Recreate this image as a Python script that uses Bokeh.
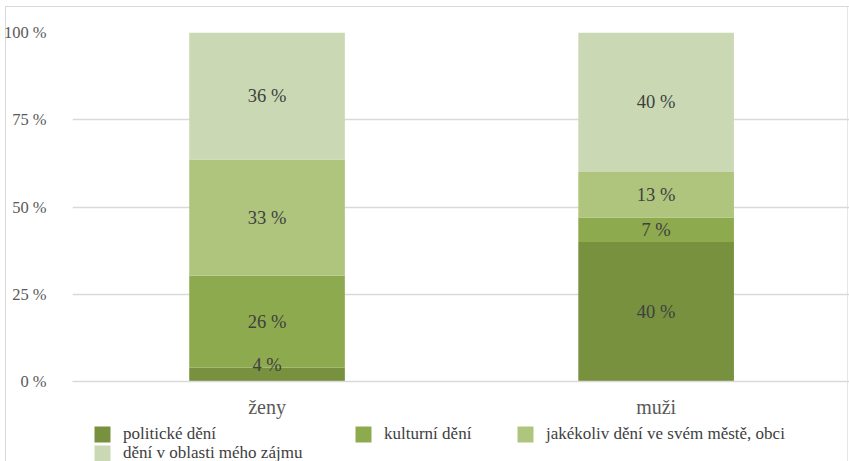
from bokeh.plotting import figure
from bokeh.layouts import column
from bokeh.models import (Range1d, FixedTicker, ColumnDataSource, Legend, LegendItem)
from bokeh.core.properties import value
from bokeh.embed import file_html
from bokeh.resources import INLINE

categories = ["ženy", "muži"]
series_names = ["politické dění", "kulturní dění",
                "jakékoliv dění ve svém městě, obci", "dění v oblasti mého zájmu"]
politicke = [4, 40]
kulturni = [26, 7]
jakekoliv = [33, 13]
oblasti = [36, 40]
y_ticks = [0, 25, 50, 75, 100]

colors = ["#77913F", "#8EAA4E", "#AFC47D", "#CAD9B3"]
FONT = "Liberation Serif"

series = [politicke, kulturni, jakekoliv, oblasti]
xs = [i + 0.5 for i in range(len(categories))]
totals = [sum(s[i] for s in series) for i in range(len(categories))]

p = figure(width=849, height=420, output_backend="svg", toolbar_location=None,
           x_range=Range1d(0, 1.997), y_range=Range1d(0, 100),
           min_border_left=72, min_border_right=0, min_border_top=32,
           min_border_bottom=39)
p.outline_line_color = None
p.background_fill_alpha = 0
p.border_fill_alpha = 0

bottoms = [0.0] * len(categories)
lab_x, lab_y, lab_t = [], [], []
for name, vals, col in zip(series_names, series, colors):
    shares = [v / t * 100 for v, t in zip(vals, totals)]
    tops = [b + s for b, s in zip(bottoms, shares)]
    src = ColumnDataSource(dict(x=xs, bottom=bottoms, top=tops))
    p.vbar(x="x", bottom="bottom", top="top", width=0.4, source=src,
           fill_color=col, line_color=None)
    for x, b, t, v in zip(xs, bottoms, tops, vals):
        lab_x.append(x)
        lab_y.append(max((b + t) / 2, 4.6))
        lab_t.append(f"{v} %")
    bottoms = tops

p.text(x=lab_x, y=lab_y, text=lab_t, text_font=value(FONT), text_font_size="18.5px",
       text_color="#404040", text_align="center", text_baseline="middle")

# axes
p.xaxis.ticker = FixedTicker(ticks=xs)
p.xaxis.major_label_overrides = {x: c for x, c in zip(xs, categories)}
p.xaxis.major_label_text_font = FONT
p.xaxis.major_label_text_font_size = "20px"
p.xaxis.major_label_text_color = "#595959"
p.xaxis.major_label_standoff = 8
p.xaxis.axis_line_color = "#D9D9D9"
p.xaxis.axis_line_width = 1.5
p.xaxis.major_tick_line_color = None
p.xaxis.minor_tick_line_color = None

p.yaxis.ticker = FixedTicker(ticks=y_ticks)
p.yaxis.major_label_overrides = {t: f"{t} %" for t in y_ticks}
p.yaxis.major_label_text_font = FONT
p.yaxis.major_label_text_font_size = "16.5px"
p.yaxis.major_label_text_color = "#595959"
p.yaxis.major_label_standoff = 20
p.yaxis.axis_line_color = None
p.yaxis.major_tick_line_color = None
p.yaxis.minor_tick_line_color = None

p.xgrid.grid_line_color = None
p.ygrid.grid_line_color = "#D9D9D9"
p.ygrid.grid_line_width = 1.5

# legend strip below the chart (frame aligned with the chart frame)
lf = figure(width=849, height=41, output_backend="svg", toolbar_location=None,
            x_axis_type=None, y_axis_type=None,
            min_border_left=72, min_border_right=0, min_border_top=0, min_border_bottom=0,
            x_range=Range1d(0, 1), y_range=Range1d(0, 1))
lf.outline_line_color = None
lf.background_fill_alpha = 0
lf.border_fill_alpha = 0
lf.xgrid.grid_line_color = None
lf.ygrid.grid_line_color = None

nan = float("nan")
positions = [(20, 17), (281, 17), (443, 17), (20, -2)]
for name, col, pos in zip(series_names, colors, positions):
    proxy = lf.vbar(x=[nan], top=[nan], width=0.1, fill_color=col, line_color=None)
    lg = Legend(items=[LegendItem(label=name, renderers=[proxy])], location=pos,
                orientation="horizontal", padding=0, margin=0, spacing=0,
                border_line_color=None, background_fill_alpha=0,
                glyph_width=20, glyph_height=20, label_standoff=11, label_height=15,
                label_text_font=FONT, label_text_font_size="17px",
                label_text_color="#404040")
    lf.add_layout(lg, "center")

# light frame around the chart area (as in the original)
frame_css = ("linear-gradient(#D9D9D9,#D9D9D9) 5px 6px / 844px 1px no-repeat, "
             "linear-gradient(#D9D9D9,#D9D9D9) 5px 6px / 1px 460px no-repeat, "
             "linear-gradient(#E6E6E6,#E6E6E6) 847px 6px / 1px 460px no-repeat, white")
layout = column(p, lf, spacing=0, styles={"background": frame_css})

open("out.html", "w").write(file_html(layout, INLINE))
